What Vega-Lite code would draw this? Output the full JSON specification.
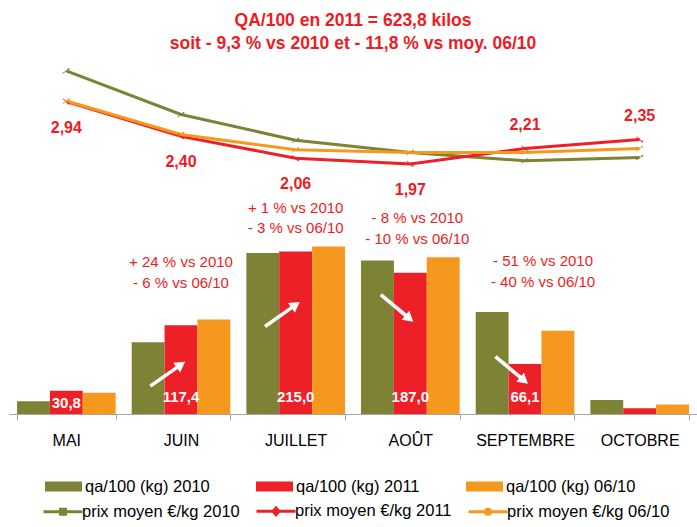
{
  "$schema": "https://vega.github.io/schema/vega-lite/v6.json",
  "width": 688,
  "height": 350,
  "autosize": {"type": "none"},
  "padding": {"left": 9, "top": 64, "right": 0, "bottom": 113},
  "background": "white",
  "config": {
    "font": "Liberation Sans",
    "view": {"stroke": null},
    "locale": {"number": {"decimal": ",", "thousands": " ", "grouping": [3], "currency": ["", " €"]}},
    "axisX": {
      "domainColor": "#A6A6A6",
      "tickColor": "#A6A6A6",
      "tickSize": 6,
      "tickBand": "extent",
      "labelFontSize": 16,
      "labelColor": "#000000",
      "labelPadding": 12,
      "labelAngle": 0,
      "grid": false
    }
  },
  "title": {
    "text": ["QA/100 en 2011 = 623,8 kilos", "soit - 9,3 % vs 2010 et - 11,8 % vs moy. 06/10"],
    "color": "#ED1C24",
    "fontSize": 17.5,
    "fontWeight": "bold",
    "lineHeight": 23,
    "anchor": "middle",
    "offset": 12
  },
  "datasets": {
    "qa": [
      {"mois": "MAI", "serie": "qa/100 (kg) 2010", "qa": 17},
      {"mois": "MAI", "serie": "qa/100 (kg) 2011", "qa": 30.8},
      {"mois": "MAI", "serie": "qa/100 (kg) 06/10", "qa": 28},
      {"mois": "JUIN", "serie": "qa/100 (kg) 2010", "qa": 95},
      {"mois": "JUIN", "serie": "qa/100 (kg) 2011", "qa": 117.4},
      {"mois": "JUIN", "serie": "qa/100 (kg) 06/10", "qa": 125},
      {"mois": "JUILLET", "serie": "qa/100 (kg) 2010", "qa": 213},
      {"mois": "JUILLET", "serie": "qa/100 (kg) 2011", "qa": 215.0},
      {"mois": "JUILLET", "serie": "qa/100 (kg) 06/10", "qa": 221.5},
      {"mois": "AOÛT", "serie": "qa/100 (kg) 2010", "qa": 203},
      {"mois": "AOÛT", "serie": "qa/100 (kg) 2011", "qa": 187.0},
      {"mois": "AOÛT", "serie": "qa/100 (kg) 06/10", "qa": 207.5},
      {"mois": "SEPTEMBRE", "serie": "qa/100 (kg) 2010", "qa": 135},
      {"mois": "SEPTEMBRE", "serie": "qa/100 (kg) 2011", "qa": 66.1},
      {"mois": "SEPTEMBRE", "serie": "qa/100 (kg) 06/10", "qa": 110},
      {"mois": "OCTOBRE", "serie": "qa/100 (kg) 2010", "qa": 18.5},
      {"mois": "OCTOBRE", "serie": "qa/100 (kg) 2011", "qa": 7.5},
      {"mois": "OCTOBRE", "serie": "qa/100 (kg) 06/10", "qa": 12.5}
    ],
    "prix": [
      {"mois": "MAI", "serie": "prix moyen €/kg 2010", "prix": 3.42},
      {"mois": "JUIN", "serie": "prix moyen €/kg 2010", "prix": 2.74},
      {"mois": "JUILLET", "serie": "prix moyen €/kg 2010", "prix": 2.34},
      {"mois": "AOÛT", "serie": "prix moyen €/kg 2010", "prix": 2.15},
      {"mois": "SEPTEMBRE", "serie": "prix moyen €/kg 2010", "prix": 2.02},
      {"mois": "OCTOBRE", "serie": "prix moyen €/kg 2010", "prix": 2.07},
      {"mois": "MAI", "serie": "prix moyen €/kg 2011", "prix": 2.94},
      {"mois": "JUIN", "serie": "prix moyen €/kg 2011", "prix": 2.40},
      {"mois": "JUILLET", "serie": "prix moyen €/kg 2011", "prix": 2.06},
      {"mois": "AOÛT", "serie": "prix moyen €/kg 2011", "prix": 1.97},
      {"mois": "SEPTEMBRE", "serie": "prix moyen €/kg 2011", "prix": 2.21},
      {"mois": "OCTOBRE", "serie": "prix moyen €/kg 2011", "prix": 2.35},
      {"mois": "MAI", "serie": "prix moyen €/kg 06/10", "prix": 2.95},
      {"mois": "JUIN", "serie": "prix moyen €/kg 06/10", "prix": 2.43},
      {"mois": "JUILLET", "serie": "prix moyen €/kg 06/10", "prix": 2.19},
      {"mois": "AOÛT", "serie": "prix moyen €/kg 06/10", "prix": 2.15},
      {"mois": "SEPTEMBRE", "serie": "prix moyen €/kg 06/10", "prix": 2.15},
      {"mois": "OCTOBRE", "serie": "prix moyen €/kg 06/10", "prix": 2.21}
    ],
    "notes": [
      {"mois": "JUIN", "texte": "+ 24 % vs 2010", "niveau": 201},
      {"mois": "JUIN", "texte": "- 6 % vs 06/10", "niveau": 173},
      {"mois": "JUILLET", "texte": "+ 1 % vs 2010", "niveau": 272},
      {"mois": "JUILLET", "texte": "- 3 % vs 06/10", "niveau": 246},
      {"mois": "AOÛT", "texte": "- 8 % vs 2010", "niveau": 259},
      {"mois": "AOÛT", "texte": "- 10 % vs 06/10", "niveau": 231.5},
      {"mois": "SEPTEMBRE", "texte": "- 51 % vs 2010", "niveau": 202},
      {"mois": "SEPTEMBRE", "texte": "- 40 % vs 06/10", "niveau": 174.6}
    ],
    "fleches": [
      {"mois": "JUIN", "sens": "hausse", "niveau": 53},
      {"mois": "JUILLET", "sens": "hausse", "niveau": 132},
      {"mois": "AOÛT", "sens": "baisse", "niveau": 140},
      {"mois": "SEPTEMBRE", "sens": "baisse", "niveau": 58}
    ]
  },
  "layer": [
    {
      "layer": [
        {
          "data": {"name": "qa"},
          "mark": {"type": "bar"},
          "encoding": {
            "x": {"field": "mois", "type": "nominal", "title": null,
                  "scale": {"domain": ["MAI", "JUIN", "JUILLET", "AOÛT", "SEPTEMBRE", "OCTOBRE"], "paddingInner": 0.14, "paddingOuter": 0.07}},
            "xOffset": {"field": "serie", "type": "nominal",
                        "scale": {"domain": ["qa/100 (kg) 2010", "qa/100 (kg) 2011", "qa/100 (kg) 06/10"]}},
            "y": {"field": "qa", "type": "quantitative", "axis": null, "scale": {"domain": [0, 463], "nice": false}},
            "color": {"field": "serie", "type": "nominal",
                      "scale": {"domain": ["qa/100 (kg) 2010", "qa/100 (kg) 2011", "qa/100 (kg) 06/10"], "range": ["#7E8234", "#EE2027", "#F7981E"]},
                      "legend": {"orient": "none", "legendX": 36, "legendY": 404, "direction": "horizontal", "columns": 3, "title": null,
                                 "symbolType": "M-1,-0.27H1V0.27H-1Z", "symbolSize": 1369, "symbolStrokeWidth": 0,
                                 "labelFontSize": 16.5, "labelColor": "#000000", "labelLimit": 300, "labelOffset": 3, "columnPadding": 46, "padding": 0}}
          }
        },
        {
          "data": {"name": "qa"},
          "transform": [{"filter": "datum.serie === 'qa/100 (kg) 2011' && datum.mois !== 'OCTOBRE' && datum.mois !== 'MAI'"}],
          "mark": {"type": "text", "color": "#FFFFFF", "fontWeight": "bold", "fontSize": 15, "dy": -17},
          "encoding": {
            "x": {"field": "mois", "type": "nominal", "title": null},
            "xOffset": {"field": "serie", "type": "nominal"},
            "y": {"datum": 0},
            "text": {"field": "qa", "type": "quantitative", "format": ".1f"}
          }
        },
        {
          "data": {"name": "qa"},
          "transform": [{"filter": "datum.serie === 'qa/100 (kg) 2011' && datum.mois === 'MAI'"}],
          "mark": {"type": "text", "color": "#FFFFFF", "fontWeight": "bold", "fontSize": 15, "dy": -11},
          "encoding": {
            "x": {"field": "mois", "type": "nominal", "title": null},
            "xOffset": {"field": "serie", "type": "nominal"},
            "y": {"datum": 0},
            "text": {"field": "qa", "type": "quantitative", "format": ".1f"}
          }
        },
        {
          "data": {"name": "fleches"},
          "mark": {"type": "point", "filled": true, "color": "#FFFFFF", "opacity": 1, "size": 1800, "strokeWidth": 0},
          "encoding": {
            "x": {"field": "mois", "type": "nominal", "title": null},
            "xOffset": {"value": 36},
            "y": {"field": "niveau", "type": "quantitative"},
            "shape": {"field": "sens", "type": "nominal", "legend": null,
                      "scale": {"domain": ["hausse", "baisse"],
                                "range": ["M-0.868,0.504L0.377,-0.368L0.265,-0.527L0.819,-0.574L0.587,-0.069L0.475,-0.229L-0.770,0.644Z",
                                          "M-0.711,-0.708L0.453,0.269L0.578,0.120L0.766,0.643L0.218,0.548L0.343,0.399L-0.821,-0.578Z"]}}
          }
        },
        {
          "data": {"name": "notes"},
          "transform": [{"filter": "datum.mois === 'JUIN' || datum.mois === 'JUILLET'"}],
          "mark": {"type": "text", "color": "#ED1C24", "fontSize": 15},
          "encoding": {
            "x": {"field": "mois", "type": "nominal", "title": null},
            "y": {"field": "niveau", "type": "quantitative"},
            "text": {"field": "texte", "type": "nominal"}
          }
        },
        {
          "data": {"name": "notes"},
          "transform": [{"filter": "datum.mois === 'AOÛT'"}],
          "mark": {"type": "text", "color": "#ED1C24", "fontSize": 15, "dx": 7},
          "encoding": {
            "x": {"field": "mois", "type": "nominal", "title": null},
            "y": {"field": "niveau", "type": "quantitative"},
            "text": {"field": "texte", "type": "nominal"}
          }
        },
        {
          "data": {"name": "notes"},
          "transform": [{"filter": "datum.mois === 'SEPTEMBRE'"}],
          "mark": {"type": "text", "color": "#ED1C24", "fontSize": 15, "dx": 18},
          "encoding": {
            "x": {"field": "mois", "type": "nominal", "title": null},
            "y": {"field": "niveau", "type": "quantitative"},
            "text": {"field": "texte", "type": "nominal"}
          }
        }
      ]
    },
    {
      "data": {"name": "prix"},
      "layer": [
        {
          "mark": {"type": "line", "strokeWidth": 3},
          "encoding": {
            "x": {"field": "mois", "type": "nominal", "title": null},
            "y": {"field": "prix", "type": "quantitative", "axis": null, "scale": {"domain": [-1.925, 3.527], "nice": false, "zero": false}},
            "color": {"field": "serie", "type": "nominal",
                      "scale": {"domain": ["prix moyen €/kg 2010", "prix moyen €/kg 2011", "prix moyen €/kg 06/10"], "range": ["#7E8234", "#EE2027", "#F7981E"]},
                      "legend": {"orient": "none", "legendX": 33, "legendY": 426, "direction": "horizontal", "columns": 3, "title": null,
                                 "symbolType": "M-1,0H1", "symbolSize": 1521, "symbolStrokeWidth": 3,
                                 "labelFontSize": 16.5, "labelColor": "#000000", "labelLimit": 300, "labelOffset": -2, "columnPadding": 10, "padding": 0,
                                 "encode": {"symbols": {"update": {
                                   "shape": {"signal": "datum.value === 'prix moyen €/kg 2010' ? 'M-1,0H1M-0.13,-0.13H0.13V0.13H-0.13Z' : datum.value === 'prix moyen €/kg 2011' ? 'M-1,0H1M0,-0.17L0.15,0L0,0.17L-0.15,0Z' : 'M-1,0H1M-0.13,0A0.13,0.13,0,1,1,0.13,0A0.13,0.13,0,1,1,-0.13,0Z'"},
                                   "size": {"value": 1521},
                                   "fill": {"signal": "datum.value === 'prix moyen €/kg 2010' ? '#7E8234' : datum.value === 'prix moyen €/kg 2011' ? '#EE2027' : '#F7981E'"},
                                   "stroke": {"signal": "datum.value === 'prix moyen €/kg 2010' ? '#7E8234' : datum.value === 'prix moyen €/kg 2011' ? '#EE2027' : '#F7981E'"},
                                   "strokeWidth": {"value": 3},
                                   "opacity": {"value": 1},
                                   "fillOpacity": {"value": 1}
                                 }}}}
            }
          }
        },
        {
          "mark": {"type": "point", "filled": true, "opacity": 1, "size": 80},
          "encoding": {
            "x": {"field": "mois", "type": "nominal", "title": null},
            "y": {"field": "prix", "type": "quantitative"},
            "color": {"field": "serie", "type": "nominal"},
            "shape": {"field": "serie", "type": "nominal", "legend": null,
                      "scale": {"domain": ["prix moyen €/kg 2010", "prix moyen €/kg 2011", "prix moyen €/kg 06/10"], "range": ["square", "diamond", "circle"]}}
          }
        },
        {
          "transform": [{"filter": "datum.serie === 'prix moyen €/kg 2011' && (datum.mois === 'MAI' || datum.mois === 'JUIN' || datum.mois === 'JUILLET' || datum.mois === 'AOÛT')"}],
          "mark": {"type": "text", "color": "#ED1C24", "fontWeight": "bold", "fontSize": 16, "dy": 26},
          "encoding": {
            "x": {"field": "mois", "type": "nominal", "title": null},
            "y": {"field": "prix", "type": "quantitative"},
            "text": {"field": "prix", "type": "quantitative", "format": ".2f"}
          }
        },
        {
          "transform": [{"filter": "datum.serie === 'prix moyen €/kg 2011' && (datum.mois === 'SEPTEMBRE' || datum.mois === 'OCTOBRE')"}],
          "mark": {"type": "text", "color": "#ED1C24", "fontWeight": "bold", "fontSize": 16, "dy": -24},
          "encoding": {
            "x": {"field": "mois", "type": "nominal", "title": null},
            "y": {"field": "prix", "type": "quantitative"},
            "text": {"field": "prix", "type": "quantitative", "format": ".2f"}
          }
        }
      ]
    }
  ],
  "resolve": {"scale": {"y": "independent", "color": "independent"}}
}
